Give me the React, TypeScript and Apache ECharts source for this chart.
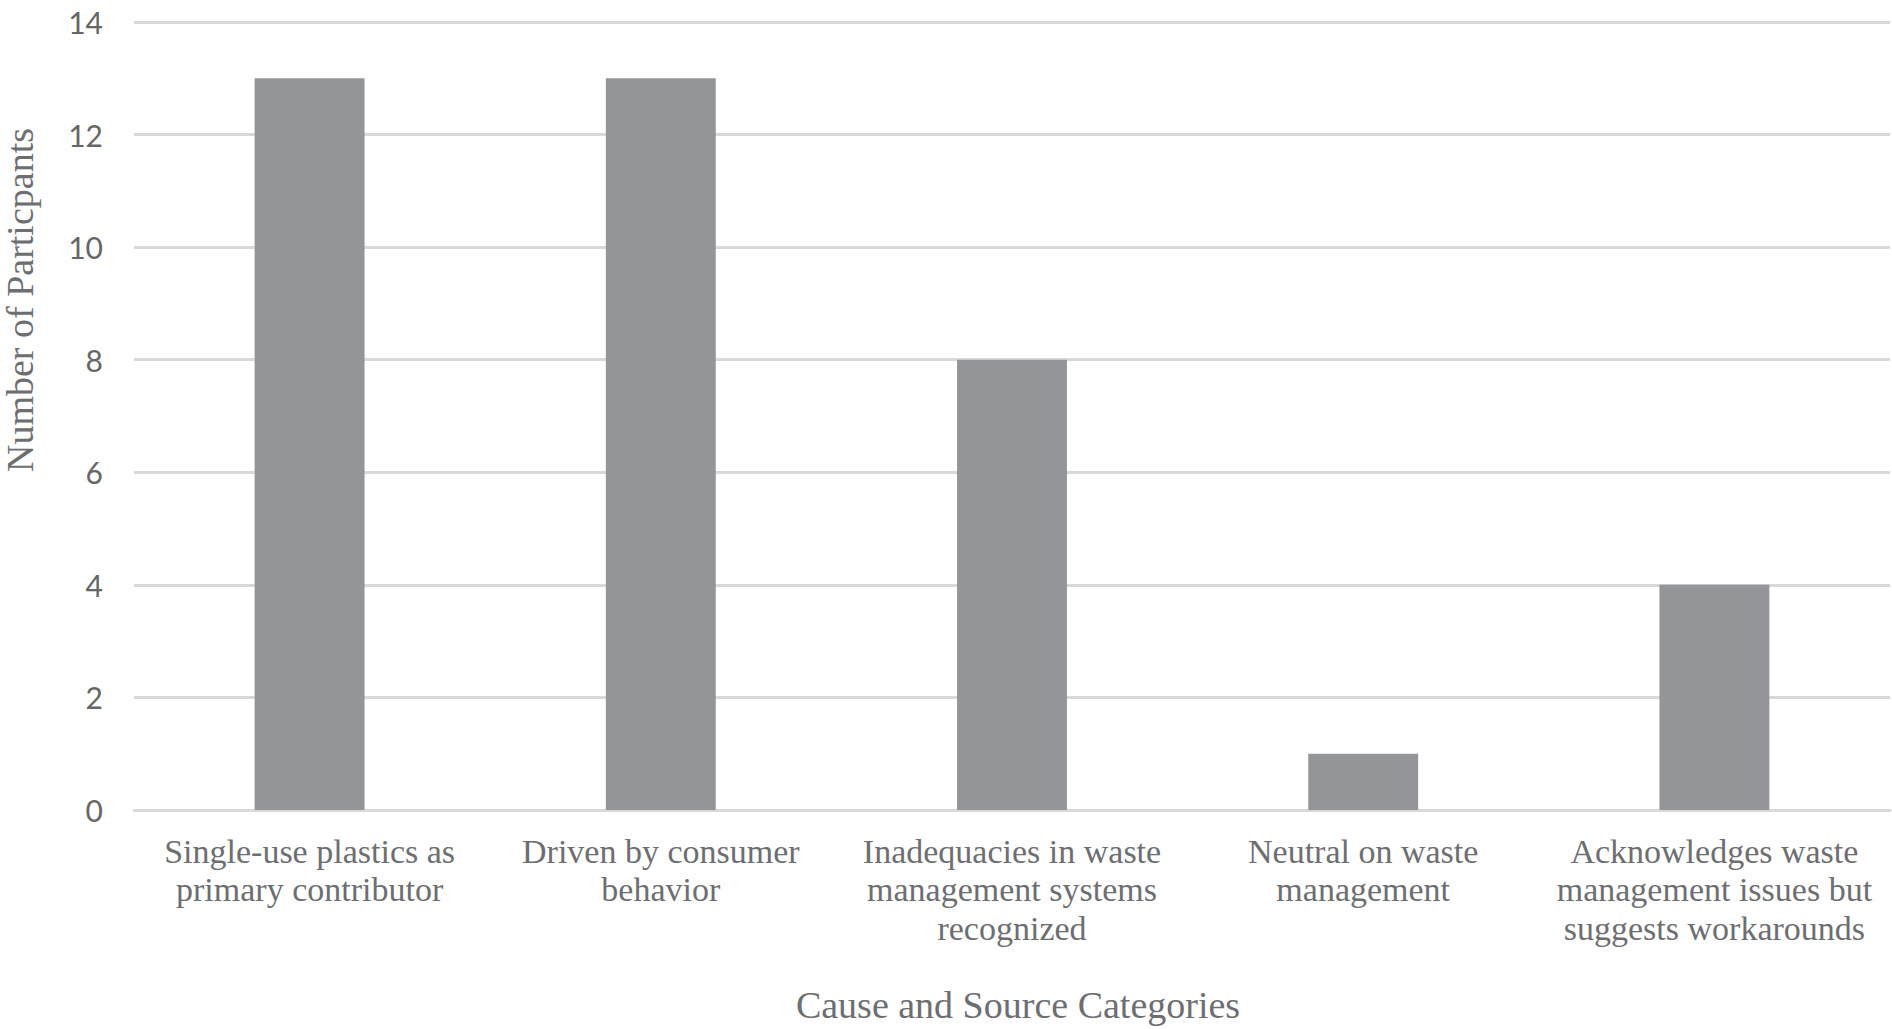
import React, { useEffect, useRef } from "react";
import * as echarts from "echarts";

const categories = [
  "Single-use plastics as\nprimary contributor",
  "Driven by consumer\nbehavior",
  "Inadequacies in waste\nmanagement systems\nrecognized",
  "Neutral on waste\nmanagement",
  "Acknowledges waste\nmanagement issues but\nsuggests workarounds",
];
const participants = [13, 13, 8, 1, 4];
const xAxisTitle = "Cause and Source Categories";
const yAxisTitle = "Number of Particpants";

export default function App() {
  const ref = useRef<HTMLDivElement>(null);
  useEffect(() => {
    document.body.style.margin = "0";
    const chart = echarts.init(ref.current!, undefined, { renderer: "svg" });
    chart.setOption({
      animation: false,
      backgroundColor: "#ffffff",
      grid: {
        left: 134,
        right: 2,
        top: 22,
        bottom: 219,
        containLabel: false,
        outerBoundsMode: "none",
      },
      xAxis: {
        type: "category",
        data: categories,
        axisLine: { show: true, lineStyle: { color: "#d9d9d9", width: 3 } },
        axisTick: { show: false },
        axisLabel: {
          interval: 0,
          margin: 22,
          fontFamily: "Liberation Serif",
          fontSize: 34,
          lineHeight: 38.5,
          color: "#6d6e71",
          align: "center",
        },
      },
      yAxis: {
        type: "value",
        min: 0,
        max: 14,
        interval: 2,
        axisLine: { show: false },
        axisTick: { show: false },
        splitLine: { lineStyle: { color: "#d9d9d9", width: 3 } },
        axisLabel: {
          margin: 31,
          fontFamily: "Lato",
          fontSize: 30,
          color: "#666666",
        },
      },
      series: [
        {
          type: "bar",
          data: participants,
          barWidth: "31.3%",
          itemStyle: { color: "#939598" },
        },
      ],
      graphic: [
        {
          type: "text",
          x: 1018,
          y: 1005,
          style: {
            text: xAxisTitle,
            fontFamily: "Liberation Serif",
            fontSize: 38,
            fill: "#6d6e71",
            textAlign: "center",
            textVerticalAlign: "middle",
          },
        },
        {
          type: "text",
          x: 20,
          y: 300,
          rotation: Math.PI / 2,
          style: {
            text: yAxisTitle,
            fontFamily: "Liberation Serif",
            fontSize: 38,
            fill: "#6d6e71",
            textAlign: "center",
            textVerticalAlign: "middle",
          },
        },
      ],
    });
    return () => chart.dispose();
  }, []);
  return <div ref={ref} style={{ width: 1892, height: 1029 }} />;
}
